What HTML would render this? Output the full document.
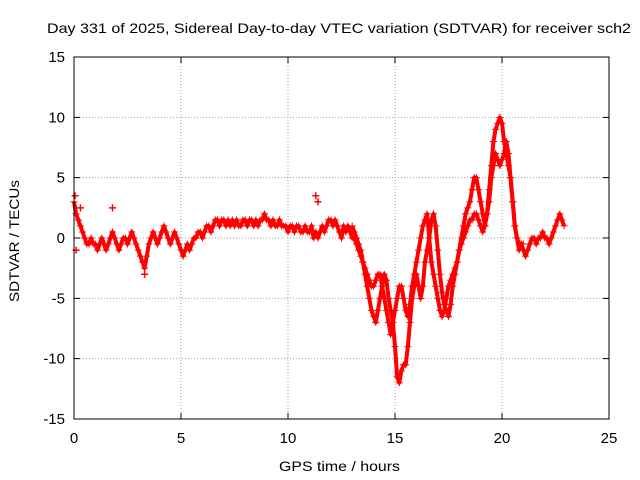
<!DOCTYPE html>
<html><head><meta charset="utf-8"><style>
html,body{margin:0;padding:0;background:#fff}
svg{display:block;font-family:"Liberation Sans",Arial,sans-serif}
</style></head><body>
<svg id="chart" width="640" height="480" viewBox="0 0 640 480" xmlns="http://www.w3.org/2000/svg">
<text x="47" y="33" font-size="14" textLength="584" lengthAdjust="spacingAndGlyphs" fill="#000">Day 331 of 2025, Sidereal Day-to-day VTEC variation (SDTVAR) for receiver sch2</text>
<text x="279" y="471" font-size="14" textLength="121" lengthAdjust="spacingAndGlyphs" fill="#000">GPS time / hours</text>
<text x="0" y="0" font-size="14" textLength="122" lengthAdjust="spacingAndGlyphs" fill="#000" transform="translate(19 302) rotate(-90)">SDTVAR / TECUs</text>
<g id="grid"></g>
<g id="ticks"></g>
<g id="series"></g>
<rect x="74" y="57" width="535" height="362" fill="none" stroke="#000" stroke-width="1"/>
</svg>
<script>
const xTicks=[0,5,10,15,20,25];
const yTicks=[-15,-10,-5,0,5,10,15];
const startHour=0;
const stepHour=0.1;
const mainValues=[3,2,1.5,1,0.5,0,-0.5,-0.5,0,-0.5,
-0.5,-1,-0.5,0,-0.5,-1,-0.5,0,0.5,0,
-0.5,-1,-0.5,0,0,-0.5,0,0.5,0,-0.5,
-1,-1.5,-2,-2.5,-1.5,-0.5,0,0.5,0,-0.5,
0,0.5,1,0.5,0,-0.5,0,0.5,0,-0.5,
-1,-1.5,-1,-0.5,-1,-0.5,0,0,0.5,0.5,
0,0.5,1,1,0.5,1,1.5,1.5,1,1.5,
1.5,1,1.5,1,1.5,1,1.5,1,1,1.5,
1.5,1,1.5,1.5,1,1.5,1,1.5,1.5,2,
1.5,1.5,1,1.5,1,1,1.5,1,1,1,
0.5,1,1,0.5,1,1,0.5,0.5,1,0.5,
0.5,1,0,0.5,0,0.5,1,0.5,1,1.5,
1.5,1,1.5,1,0.5,0,1,0.5,1,0.5,
0,0,-0.5,-1,-1.5,-2,-3,-4,-5,-6,
-6.5,-7,-6,-5,-4,-3,-3.5,-5,-6,-7,
-9,-11.5,-12,-11,-10.5,-10.5,-9,-7,-5,-4,
-3,-4,-5,-4,-2,-1,0,1.5,2,1,
-1,-3,-4.5,-5.5,-6,-6.5,-5.5,-4,-3,-2,
-1,0,1,2,2.5,3,4,5,5,4,
3,2,1,2,4,6,8,9,9.5,10,
9.5,8,7,6,5,3,1,0,-0.5,-0.5,
-1,-1.5,-1,-0.5,0,0,-0.5,0,0,0.5,
0,0,-0.5,0,0.5,1,1.5,2,1.5,1];
const secondStart=13.0;
const secondValues=[1,0.5,0,-0.5,-1,-2,-2.5,-3,-3.5,-4,
-4,-3.5,-3,-3,-4,-5,-6,-7,-8,-7,
-6,-5,-4,-4,-5,-6,-6.5,-5.5,-4,-3,
-2,-1,0,1,1.5,2,0,-2,-3,-4,
-5,-6,-6.5,-6,-5,-4,-3.5,-3,-2.5,-2,
-1,-0.5,0,0.5,1,1.5,1.5,2,2,1.5,
1,0.5,1,2,3,5,6,7,6.5,6,
6.5,7,8,7,5,3,1,0,-1,-0.5,-0.5];
const extraHours=[0.1,0.3,1.8,11.3,11.4,3.3,0.05];
const extraValues=[-1,2.5,2.5,3.5,3,-3,3.5];

const X0=74,X1=609,Y0=419,Y1=57;
const xs=h=>X0+(h-0)/25*(X1-X0);
const ys=v=>Y0-(v+15)/30*(Y0-Y1);
const NS="http://www.w3.org/2000/svg";
const grid=document.getElementById('grid'),ticks=document.getElementById('ticks'),ser=document.getElementById('series');
function mk(tag,attrs,parent){const e=document.createElementNS(NS,tag);for(const k in attrs)e.setAttribute(k,attrs[k]);parent.appendChild(e);return e;}
xTicks.forEach(t=>{
  const x=xs(t);
  if(t>0&&t<25){const g=mk('line',{x1:x,x2:x,y1:Y1,y2:Y0,stroke:'#a0a0a0','stroke-dasharray':'1,2'},grid);
  
  }
  const tk=mk('path',{d:`M${x},${Y0}v-6M${x},${Y1}v6`,stroke:'#000'},ticks);
  
  
  const l=mk('text',{x:x,y:Y0+24,'font-size':'15','text-anchor':'middle'},ticks);l.textContent=t;
  
  
});
yTicks.forEach(t=>{
  const y=ys(t);
  if(t>-15&&t<15){const g=mk('line',{x1:X0,x2:X1,y1:y,y2:y,stroke:'#a0a0a0','stroke-dasharray':'1,2'},grid);
  
  }
  const tk=mk('path',{d:`M${X0},${y}h6M${X1},${y}h-6`,stroke:'#000'},ticks);
  
  
  const l=mk('text',{x:X0-9,y:y+5,'font-size':'15','text-anchor':'end'},ticks);l.textContent=t;
  
  
});
function drawSeries(start,vals,name){
  const pts=vals.map((v,i)=>[xs(start+i*stepHour),ys(v)]);
  const pl=mk('polyline',{points:pts.map(p=>p.join(',')).join(' '),fill:'none',stroke:'#ff0000','stroke-width':4,'stroke-linejoin':'round'},ser);
  
  
  pts.forEach(p=>{
    const m=mk('path',{d:`M${p[0]-3.5},${p[1]}h7M${p[0]},${p[1]-3.5}v7`,stroke:'#ff0000','stroke-width':1},ser);
    
    
  });
}
drawSeries(startHour,mainValues,'main-strand');
drawSeries(secondStart,secondValues,'second-strand');
extraHours.forEach((h,i)=>{
  const x=xs(h),y=ys(extraValues[i]);
  const m=mk('path',{d:`M${x-3.5},${y}h7M${x},${y-3.5}v7`,stroke:'#ff0000','stroke-width':1.5},ser);
  
  
});
</script>
</body></html>
